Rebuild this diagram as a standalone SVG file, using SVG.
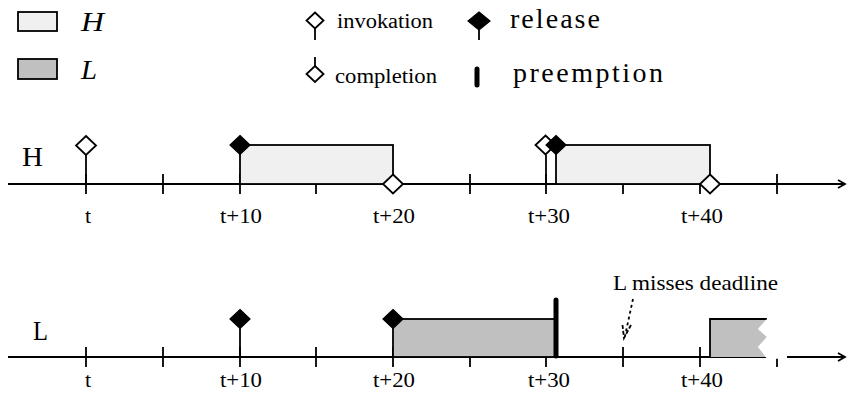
<svg xmlns="http://www.w3.org/2000/svg" xmlns:xlink="http://www.w3.org/1999/xlink" width="847" height="398" viewBox="0 0 847 398">
<style>
.ln{stroke:#000;stroke-width:1.8;fill:none}
.tx{font-family:"Liberation Serif","Times New Roman",serif;fill:#000}
.it{font-style:italic}
.hbox{fill:#f0f0f0;stroke:#000;stroke-width:1.8}
.lbox{fill:#c0c0c0;stroke:#000;stroke-width:1.8}
.dopen{fill:#fff;stroke:#000;stroke-width:1.8}
.dfill{fill:#000;stroke:#000;stroke-width:1.2}
.pre{stroke:#000;stroke-width:5;stroke-linecap:round}
</style>
<defs>
<polygon id="dia" points="0,-9.5 10,0 0,9.5 -10,0"/>
<polygon id="dias" points="0,-8 8.5,0 0,8 -8.5,0"/>
</defs>

<g id="legend">
<g id="legend-H">
<rect x="18" y="12" width="39" height="19" class="hbox"/>
<text x="81" y="31" class="tx it" font-size="28" textLength="23" lengthAdjust="spacingAndGlyphs">H</text>
</g>
<g id="legend-L">
<rect x="18" y="59" width="39" height="20" class="lbox"/>
<text x="81" y="79" class="tx it" font-size="28" textLength="16" lengthAdjust="spacingAndGlyphs">L</text>
</g>
<g id="legend-invokation">
<line x1="315" y1="28" x2="315" y2="40" class="ln"/>
<use xlink:href="#dias" x="315" y="20.5" class="dopen"/>
<text x="337" y="28" class="tx" font-size="20" textLength="96" lengthAdjust="spacingAndGlyphs">invokation</text>
</g>
<g id="legend-completion">
<line x1="315" y1="57" x2="315" y2="66" class="ln"/>
<use xlink:href="#dias" x="315" y="74" class="dopen"/>
<text x="335" y="83" class="tx" font-size="20" textLength="102" lengthAdjust="spacingAndGlyphs">completion</text>
</g>
<g id="legend-release">
<line x1="479" y1="28" x2="479" y2="40" class="ln"/>
<polygon points="479,12 490,21 479,30 468,21" class="dfill"/>
<text x="510" y="28" class="tx" font-size="28" textLength="90" lengthAdjust="spacing">release</text>
</g>
<g id="legend-preemption">
<line x1="477" y1="69" x2="477" y2="85" class="pre"/>
<text x="513" y="82" class="tx" font-size="28" textLength="150" lengthAdjust="spacing">preemption</text>
</g>
</g>

<g id="timeline-H">
<text x="22" y="166" class="tx" font-size="27" textLength="21" lengthAdjust="spacingAndGlyphs">H</text>
<line x1="8" y1="184" x2="845" y2="184" class="ln"/>
<polyline points="838,180 845,184 838,188" class="ln"/>
<g class="ln">
<line x1="86" y1="174" x2="86" y2="194"/>
<line x1="163" y1="174" x2="163" y2="194"/>
<line x1="240" y1="174" x2="240" y2="194"/>
<line x1="316" y1="174" x2="316" y2="194"/>
<line x1="393" y1="174" x2="393" y2="194"/>
<line x1="470" y1="174" x2="470" y2="194"/>
<line x1="546" y1="174" x2="546" y2="194"/>
<line x1="623" y1="174" x2="623" y2="194"/>
<line x1="700" y1="174" x2="700" y2="194"/>
<line x1="777" y1="174" x2="777" y2="194"/>
</g>
<g class="tx" font-size="22" text-anchor="middle">
<text x="88" y="223">t</text>
<text x="241" y="223" textLength="42" lengthAdjust="spacingAndGlyphs">t+10</text>
<text x="394" y="223" textLength="42" lengthAdjust="spacingAndGlyphs">t+20</text>
<text x="549" y="223" textLength="42" lengthAdjust="spacingAndGlyphs">t+30</text>
<text x="702" y="223" textLength="42" lengthAdjust="spacingAndGlyphs">t+40</text>
</g>
</g>

<g id="H-job1">
<line x1="86" y1="155" x2="86" y2="184" class="ln"/>
<use xlink:href="#dia" x="86" y="145.5" class="dopen"/>
<rect x="240" y="145" width="153" height="39" class="hbox"/>
<use xlink:href="#dia" x="240" y="145" class="dfill"/>
<use xlink:href="#dia" x="393" y="184" class="dopen"/>
</g>

<g id="H-job2">
<line x1="546" y1="155" x2="546" y2="184" class="ln"/>
<use xlink:href="#dia" x="545.5" y="145" class="dopen"/>
<rect x="556" y="145" width="154" height="39" class="hbox"/>
<use xlink:href="#dia" x="556" y="145" class="dfill"/>
<use xlink:href="#dia" x="710" y="184" class="dopen"/>
</g>

<g id="timeline-L">
<text x="33" y="340" class="tx" font-size="27" textLength="15" lengthAdjust="spacingAndGlyphs">L</text>
<line x1="8" y1="357" x2="845" y2="357" class="ln"/>
<polyline points="838,353 845,357 838,361" class="ln"/>
<g class="ln">
<line x1="86" y1="347" x2="86" y2="367"/>
<line x1="163" y1="347" x2="163" y2="367"/>
<line x1="240" y1="347" x2="240" y2="367"/>
<line x1="316" y1="347" x2="316" y2="367"/>
<line x1="393" y1="347" x2="393" y2="367"/>
<line x1="470" y1="347" x2="470" y2="367"/>
<line x1="546" y1="347" x2="546" y2="367"/>
<line x1="623" y1="347" x2="623" y2="367"/>
<line x1="700" y1="347" x2="700" y2="367"/>
<line x1="777" y1="347" x2="777" y2="367"/>
</g>
<g class="tx" font-size="22" text-anchor="middle">
<text x="88" y="387">t</text>
<text x="241" y="387" textLength="42" lengthAdjust="spacingAndGlyphs">t+10</text>
<text x="394" y="387" textLength="42" lengthAdjust="spacingAndGlyphs">t+20</text>
<text x="549" y="387" textLength="42" lengthAdjust="spacingAndGlyphs">t+30</text>
<text x="702" y="387" textLength="42" lengthAdjust="spacingAndGlyphs">t+40</text>
</g>
</g>

<g id="L-release1">
<line x1="240" y1="328" x2="240" y2="357" class="ln"/>
<use xlink:href="#dia" x="240" y="319" class="dfill"/>
</g>

<g id="L-job1">
<rect x="393" y="319" width="163" height="38" class="lbox"/>
<use xlink:href="#dia" x="393" y="319" class="dfill"/>
<line x1="556" y1="300" x2="556" y2="356" class="pre"/>
</g>

<g id="L-job2">
<polygon points="710,357 710,319 767,319 758,329 767,337 758,347 767,357" fill="#c0c0c0"/>
<polyline points="710,357 710,319 767,319" class="ln"/>
<polygon points="767,319 758,329 767,337 758,347 767,358.8 787,358.8 787,319" fill="#fff"/>
</g>

<g id="deadline">
<text x="613" y="290" class="tx" font-size="21" textLength="165" lengthAdjust="spacingAndGlyphs">L misses deadline</text>
</g>

<g id="connectors">
<line x1="633" y1="299" x2="625" y2="336" class="ln" stroke-width="1.5" stroke-dasharray="3,3"/>
<polyline points="631,325 624,338 622.5,325" class="ln" stroke-width="1.5" stroke-dasharray="4,2"/>
</g>
</svg>
